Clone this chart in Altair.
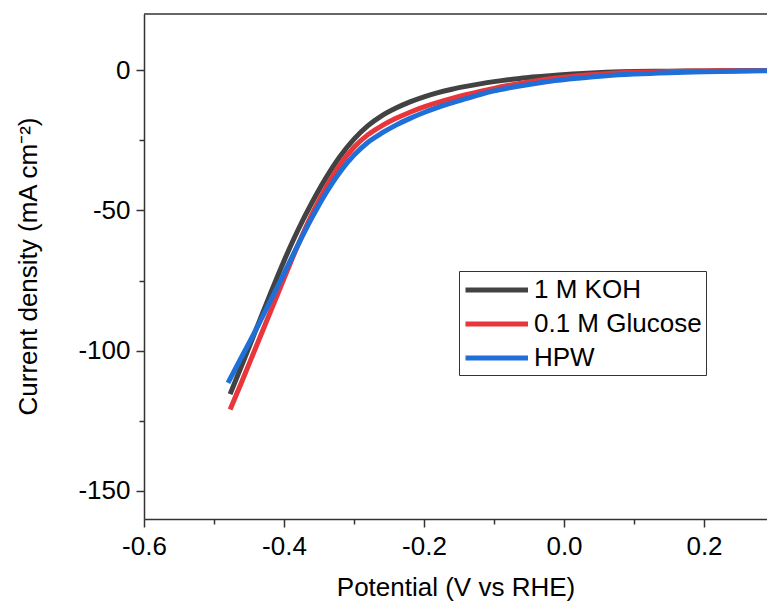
import altair as alt
import pandas as pd

# ---- data ----
v_koh = [-0.477, -0.46, -0.44, -0.42, -0.40, -0.38, -0.36, -0.34, -0.32, -0.30, -0.28, -0.26, -0.24,
         -0.22, -0.20, -0.18, -0.16, -0.14, -0.12, -0.10, -0.08, -0.05, -0.02, 0.02, 0.06, 0.10,
         0.15, 0.20, 0.25, 0.29]
j_koh = [-115.5, -105, -92.5, -80, -68, -57, -47.2, -38.4, -30.8, -24.6, -19.8, -16.2, -13.5,
         -11.3, -9.5, -8.0, -6.8, -5.8, -4.9, -4.1, -3.4, -2.6, -2.0, -1.3, -0.8, -0.5,
         -0.4, -0.3, -0.2, -0.1]

v_glu = [-0.477, -0.46, -0.44, -0.42, -0.40, -0.38, -0.36, -0.34, -0.32, -0.30, -0.28, -0.26, -0.24,
         -0.22, -0.20, -0.18, -0.16, -0.14, -0.12, -0.10, -0.08, -0.05, -0.02, 0.02, 0.06, 0.10,
         0.15, 0.20, 0.25, 0.29]
j_glu = [-121, -110.9, -98.7, -86.5, -74.3, -62.3, -51.3, -41.8, -33.8, -27.5, -23, -19.8, -17.2,
         -15, -13.1, -11.5, -10.1, -8.8, -7.6, -6.5, -5.5, -4.2, -3.1, -2.0, -1.3, -0.8,
         -0.5, -0.3, -0.2, -0.1]

v_hpw = [-0.48, -0.46, -0.44, -0.42, -0.40, -0.38, -0.36, -0.34, -0.32, -0.30, -0.28, -0.26, -0.24,
         -0.22, -0.20, -0.18, -0.16, -0.14, -0.12, -0.10, -0.08, -0.05, -0.02, 0.02, 0.06, 0.10,
         0.15, 0.20, 0.25, 0.29]
j_hpw = [-111.5, -102, -92.5, -82.5, -72.5, -62.3, -52.6, -43.8, -36.3, -30.3, -25.7, -22.4, -19.6,
         -17.2, -15.1, -13.3, -11.7, -10.2, -8.7, -7.4, -6.4, -5.1, -4.0, -2.9, -2.0, -1.4,
         -0.9, -0.6, -0.35, -0.2]

series_names = ["1 M KOH", "0.1 M Glucose", "HPW"]
series_colors = ["#424242", "#e8363b", "#1f6fd8"]

x_tick_values = [-0.6, -0.5, -0.4, -0.3, -0.2, -0.1, 0.0, 0.1, 0.2]
y_tick_values = [-150, -125, -100, -75, -50, -25, 0]

rows = []
for name, vs, js in zip(series_names, [v_koh, v_glu, v_hpw], [j_koh, j_glu, j_hpw]):
    for i, (v, j) in enumerate(zip(vs, js)):
        rows.append({"series": name, "V": v, "J": j, "idx": i})
df = pd.DataFrame(rows)

FONT = "Liberation Sans"

lines = alt.Chart(df).mark_line(strokeWidth=5, interpolate="monotone").encode(
    x=alt.X("V:Q",
            scale=alt.Scale(domain=[-0.6, 0.29], nice=False, zero=False),
            axis=alt.Axis(
                title="Potential (V vs RHE)",
                values=x_tick_values,
                labelExpr="round(datum.value*10) % 2 != 0 ? '' : ((datum.value < -0.001 ? '-' : '') + format(abs(datum.value), '.1f'))",
                tickSize={"condition": {"test": "round(datum.value*10) % 2 != 0", "value": 5}, "value": 8},
                labelFlush=False,
                labelOverlap=False,
                labelPadding=6,
                titleBaseline="alphabetic",
                titleY=76,
            )),
    y=alt.Y("J:Q",
            scale=alt.Scale(domain=[-160, 20], nice=False, zero=False),
            axis=alt.Axis(
                title="Current density (mA cm⁻²)",
                values=y_tick_values,
                labelExpr="datum.value % 50 != 0 ? '' : ((datum.value < 0 ? '-' : '') + format(abs(datum.value), 'd'))",
                tickSize={"condition": {"test": "datum.value % 50 != 0", "value": 5}, "value": 8},
                labelOverlap=False,
                labelPadding=6,
                titleBaseline="alphabetic",
                titleAngle=-90,
                titleX=-108,
                titleY=252,
                titleAlign="center",
            )),
    color=alt.Color("series:N",
                    scale=alt.Scale(domain=series_names, range=series_colors),
                    sort=series_names,
                    legend=alt.Legend(
                        title=None,
                        orient="none",
                        legendX=315,
                        legendY=257,
                        symbolType="M-1,0L4,0",
                        symbolSize=625,
                        symbolStrokeWidth=5,
                        labelFontSize=26,
                        labelFont=FONT,
                        labelColor="#000000",
                        labelOffset=41,
                        labelLimit=0,
                        rowPadding=6,
                        padding=4,
                        strokeColor="#333333",
                        fillColor="#ffffff",
                    )),
    order=alt.Order("idx:Q"),
)

top_border = alt.Chart(pd.DataFrame({"y": [20]})).mark_rule(color="#333333", strokeWidth=1.5).encode(
    y=alt.Y("y:Q")
)

chart = alt.layer(lines, top_border).properties(
    width=623,
    height=505,
    autosize=alt.AutoSizeParams(type="none"),
    padding={"left": 144, "top": 14, "right": 0, "bottom": 93},
    background="#ffffff",
).configure_view(
    stroke=None
).configure_axis(
    grid=False,
    domainColor="#333333",
    domainWidth=1.5,
    tickColor="#333333",
    tickWidth=1.5,
    labelFont=FONT,
    labelFontSize=26,
    labelColor="#000000",
    titleFont=FONT,
    titleFontSize=26,
    titleFontWeight="normal",
    titleColor="#000000",
)

chart.save("out.html", embed_options={"renderer": "svg", "actions": False})
